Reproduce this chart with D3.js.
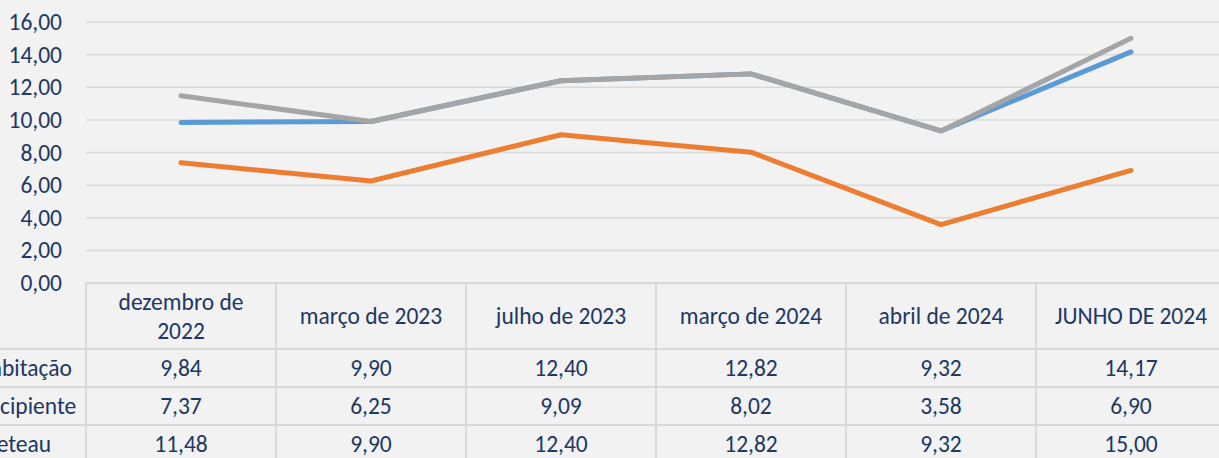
<!DOCTYPE html>
<html>
<head>
<meta charset="utf-8">
<script src="https://cdn.jsdelivr.net/npm/d3@7"></script>
<style>
  html, body { margin: 0; padding: 0; background: #f2f2f2; overflow: hidden; }
  #grafico { width: 1219px; height: 458px; }
</style>
</head>
<body>
<div id="grafico"></div>
<script>
// dados
const periodos = [["dezembro de", "2022"], ["março de 2023"], ["julho de 2023"], ["março de 2024"], ["abril de 2024"], ["JUNHO DE 2024"]];
const nomesSeries = ["Habitação", "Recipiente", "Breteau"];
const habitacao = [9.84, 9.90, 12.40, 12.82, 9.32, 14.17];
const recipiente = [7.37, 6.25, 9.09, 8.02, 3.58, 6.90];
const breteau = [11.48, 9.90, 12.40, 12.82, 9.32, 15.00];
const ticksY = [0, 2, 4, 6, 8, 10, 12, 14, 16];
const coresSeries = ["#5b9bd5", "#ed7d31", "#a5a5a5"];

const series = [habitacao, recipiente, breteau];
const fonte = "Carlito, Calibri, Lato, sans-serif";
const tamFonte = 23.5;
const corTexto = "#203764";
const corGrade = "#d9d9d9";

const width = 1219, height = 458;
const plot = { left: 86, right: 1226, top: 22, bottom: 283 };
const alturaCabecalho = 66, alturaLinha = 38;

const svg = d3.select("#grafico").append("svg")
  .attr("width", width).attr("height", height)
  .style("background", "#f2f2f2")
  .attr("font-family", fonte);

const x = d3.scaleBand().domain(d3.range(periodos.length)).range([plot.left, plot.right]);
const y = d3.scaleLinear().domain([0, 16]).range([plot.bottom, plot.top]);

const pt = d3.formatLocale({ decimal: ",", thousands: ".", grouping: [3], currency: ["R$", ""] });
const fmt = pt.format(".2f");

// grade
svg.append("g").selectAll("line")
  .data(ticksY.filter(d => d > 0))
  .join("line")
  .attr("x1", plot.left).attr("x2", width)
  .attr("y1", d => y(d)).attr("y2", d => y(d))
  .attr("stroke", corGrade).attr("stroke-width", 1.5);

// eixo Y
const eixoY = svg.append("g")
  .attr("transform", `translate(${plot.left - 24},0)`)
  .call(d3.axisLeft(y).tickValues(ticksY).tickFormat(fmt).tickSize(0).tickPadding(0));
eixoY.select(".domain").remove();
eixoY.selectAll("text")
  .attr("fill", corTexto).attr("font-size", tamFonte).attr("font-family", fonte);

// linhas
const linha = d3.line()
  .x((d, i) => x(i) + x.bandwidth() / 2)
  .y(d => y(d));

svg.append("g").selectAll("path")
  .data(series)
  .join("path")
  .attr("d", linha)
  .attr("fill", "none")
  .attr("stroke", (d, i) => coresSeries[i])
  .attr("stroke-width", 5)
  .attr("stroke-linecap", "round")
  .attr("stroke-linejoin", "round");

// tabela de dados
const tabela = svg.append("g");
const yLinhas = d3.range(series.length + 1).map(i => plot.bottom + alturaCabecalho + i * alturaLinha);

tabela.append("line")
  .attr("x1", plot.left).attr("x2", width)
  .attr("y1", plot.bottom).attr("y2", plot.bottom)
  .attr("stroke", corGrade).attr("stroke-width", 2);

tabela.selectAll("line.h")
  .data(yLinhas)
  .join("line")
  .attr("class", "h")
  .attr("x1", 0).attr("x2", width)
  .attr("y1", d => d).attr("y2", d => d)
  .attr("stroke", corGrade).attr("stroke-width", 2);

tabela.selectAll("line.v")
  .data(d3.range(periodos.length + 1))
  .join("line")
  .attr("class", "v")
  .attr("x1", i => i < periodos.length ? x(i) : plot.right)
  .attr("x2", i => i < periodos.length ? x(i) : plot.right)
  .attr("y1", plot.bottom).attr("y2", height)
  .attr("stroke", corGrade).attr("stroke-width", 2);

// cabeçalho
const centroCab = plot.bottom + alturaCabecalho / 2;
tabela.selectAll("text.cab")
  .data(periodos)
  .join("text")
  .attr("class", "cab")
  .attr("x", (d, i) => x(i) + x.bandwidth() / 2)
  .attr("y", centroCab)
  .attr("text-anchor", "middle")
  .attr("fill", corTexto).attr("font-size", tamFonte)
  .each(function (d) {
    const t = d3.select(this);
    d.forEach((linhaTxt, k) => {
      t.append("tspan")
        .attr("x", t.attr("x"))
        .attr("dy", k === 0 ? `${0.35 - (d.length - 1) * 0.62}em` : "1.24em")
        .text(linhaTxt);
    });
  });

// nomes das séries (cortados à esquerda como no original) e valores
series.forEach((s, j) => {
  const cy = yLinhas[j] + alturaLinha / 2;
  tabela.append("text")
    .attr("x", -24)
    .attr("y", cy)
    .attr("dy", "0.35em")
    .attr("fill", corTexto).attr("font-size", tamFonte)
    .text(nomesSeries[j]);
  tabela.selectAll(null)
    .data(s)
    .join("text")
    .attr("x", (d, i) => x(i) + x.bandwidth() / 2)
    .attr("y", cy)
    .attr("dy", "0.35em")
    .attr("text-anchor", "middle")
    .attr("fill", corTexto).attr("font-size", tamFonte)
    .text(d => fmt(d));
});
</script>
</body>
</html>
